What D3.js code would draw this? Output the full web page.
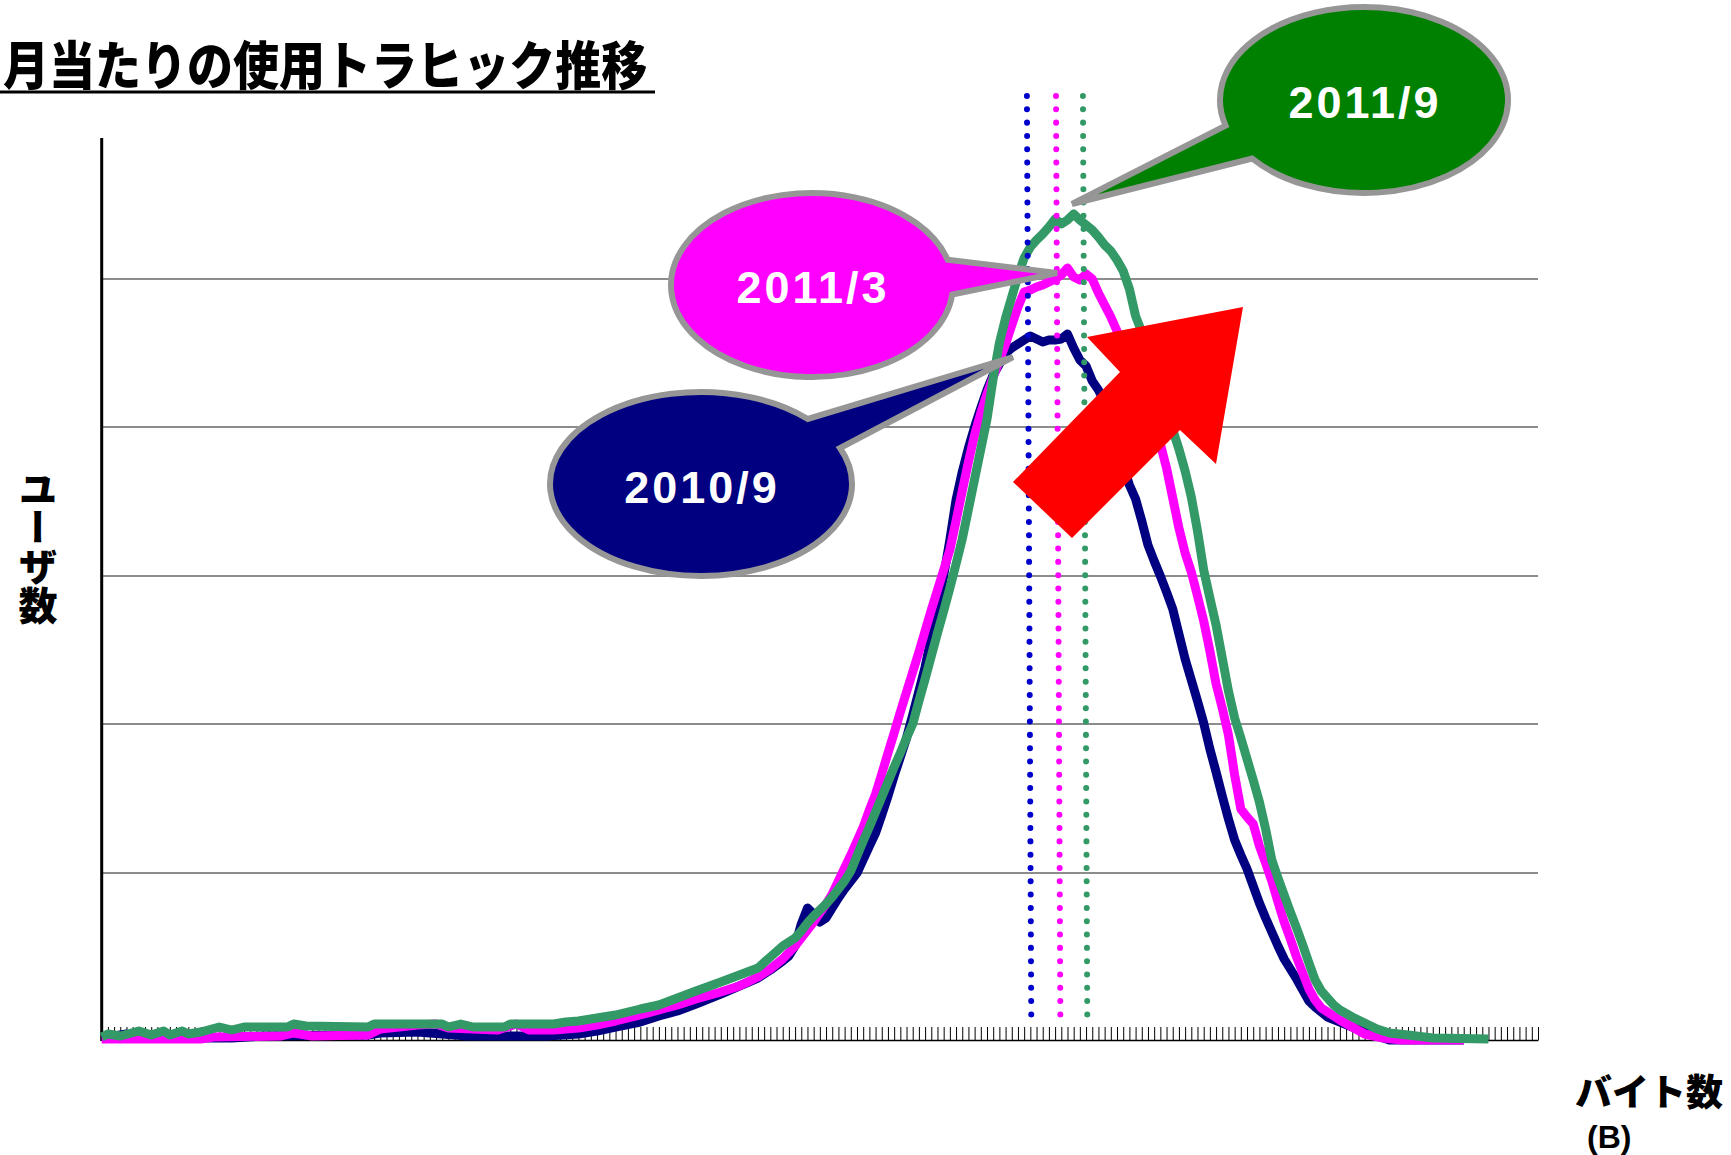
<!DOCTYPE html>
<html><head><meta charset="utf-8">
<script src="https://cdn.jsdelivr.net/npm/d3@7"></script>
<style>html,body{margin:0;padding:0;background:#fff;} svg{display:block}</style>
</head><body>
<svg id="chart" width="1731" height="1155"></svg>
<script>
// ---------------- DATA ----------------
const binCount = 232;                       // byte-size bins on the category axis
const gridValues = [167, 316, 464, 613, 761]; // horizontal gridlines (user count)
const seriesNames = ["2010/9", "2011/3", "2011/9"];

const bins2010_9 = [0,4,6,21,26,43,45,51,55,59,72,77,80,83,87,90,93,96,100,103,106,108,110,111,112,113,114,115,116,117,118,119,120,122,124,125,126,127,128,129,130,131,132,133,134,135,136,137,138,139,140,141,142,143,144,145,146,147,148,149,150,151,152,153,154,155,156,157,158,159,160,161,162,163,164,165,166,167,168,169,170,171,172,173,174,175,176,177,178,179,180,181,182,183,184,185,186,187,188,189,190,191,192,193,194,195,196,197,198,200,202,204,206,208,220];
const users2010_9 = [2,6,2,2,4,5,7,8,6,4,4,6,9,13,18,24,29,36,46,54,62,70,79,84,94,116,132,126,118,122,132,142,151,167,194,207,225,244,264,283,302,325,349,373,402,432,464,500,540,568,592,613,632,650,665,676,687,692,696,700,704,701,698,700,700,701,706,692,680,674,659,650,638,616,594,574,555,541,519,495,479,464,448,431,406,381,360,339,317,291,268,244,221,200,185,171,154,137,122,108,94,81,71,61,50,39,33,28,23,18,13,8,4,0,0];

const bins2011_3 = [0,16,18,29,31,34,43,45,51,54,56,64,67,69,73,77,80,83,87,90,93,96,100,103,106,108,110,112,113,114,115,116,117,118,119,120,121,122,123,124,125,126,127,128,129,130,131,132,133,134,135,136,137,138,139,140,141,142,143,144,145,146,147,148,149,150,151,152,153,154,155,156,157,158,159,160,161,162,163,164,165,166,167,168,169,170,171,172,173,174,175,176,177,178,179,180,181,182,183,184,185,186,187,188,189,190,191,192,193,194,195,196,197,198,200,202,204,207,210,220];
const users2011_3 = [1,1,3,4,7,4,5,11,15,16,12,10,16,10,10,12,15,19,25,30,35,41,48,54,63,71,81,94,102,110,118,127,136,146,159,172,185,199,213,230,246,266,287,307,328,348,368,388,409,430,450,470,490,519,549,578,605,627,646,663,679,696,715,733,748,750,753,755,758,761,765,772,763,760,766,761,747,735,723,709,693,677,661,645,628,612,596,572,542,512,487,468,444,419,389,356,332,305,265,231,223,216,194,177,159,138,118,101,83,67,51,40,32,28,20,13,6,2,0,0];

const bins2011_9 = [0,1,3,6,8,10,11,13,14,16,19,21,23,30,31,33,43,44,55,56,58,60,65,66,73,75,77,80,83,87,90,93,96,100,103,106,108,110,112,113,114,115,116,117,118,119,120,121,122,123,124,125,126,127,128,129,130,131,132,133,134,135,136,137,138,139,140,141,142,143,144,145,146,147,148,149,150,151,152,153,154,155,156,157,158,159,160,161,162,163,164,165,166,167,168,169,170,171,172,173,174,175,176,177,178,179,180,181,182,183,184,185,186,187,188,189,190,191,192,193,194,195,196,197,198,199,200,202,204,206,208,211,215,224];
const users2011_9 = [3,6,4,9,5,9,5,9,6,8,13,10,13,13,16,14,13,16,16,13,16,13,13,16,16,18,19,22,25,31,35,42,49,58,65,72,83,94,102,109,117,124,130,136,143,151,159,169,184,199,213,228,243,258,273,287,302,316,339,361,384,407,429,452,476,501,531,561,591,621,662,697,722,743,764,782,793,800,806,813,821,816,820,826,820,815,810,803,795,789,780,769,751,724,708,686,665,644,625,610,591,569,543,509,470,442,415,382,349,322,302,281,260,238,211,180,162,145,128,112,95,77,60,49,42,35,30,23,17,11,7,5,2,1];

// bins marking the peak of each distribution (dotted guides)
const peakBins = [149.8, 154.5, 158.85];

// ---------------- LAYOUT / STYLE ----------------
const colors = ["#000080", "#FF00FF", "#339966"];
const dotColors = ["#0000CC", "#FF00FF", "#339966"];
const calloutFill = ["#000080", "#FF00FF", "#008000"];
const plot = {left: 101.7, right: 1538, top: 138, bottom: 1040};

const svg = d3.select("#chart");
const x = d3.scaleLinear().domain([0, binCount]).range([plot.left, plot.right]);
const y = d3.scaleLinear().domain([0, 902]).range([plot.bottom, plot.top]);

// gridlines
svg.append("g").selectAll("line").data(gridValues).join("line")
  .attr("x1", plot.left).attr("x2", plot.right)
  .attr("y1", d => y(d)).attr("y2", d => y(d))
  .attr("stroke", "#1a1a1a").attr("stroke-width", 1.2);

// x axis with inward ticks, no labels
const xAxis = d3.axisBottom(x).tickValues(d3.range(1, binCount + 1)).tickSize(-13).tickSizeOuter(0).tickFormat("");
const gx = svg.append("g").attr("transform", `translate(0,${plot.bottom})`).call(xAxis);
gx.select(".domain").attr("stroke", "#000").attr("stroke-width", 1.6);
gx.selectAll(".tick line").attr("stroke", "#000").attr("stroke-width", 1);

// y axis line
svg.append("line").attr("x1", plot.left).attr("x2", plot.left)
  .attr("y1", plot.top).attr("y2", plot.bottom + 1)
  .attr("stroke", "#000").attr("stroke-width", 3);

// series lines
const series = [
  {name: seriesNames[0], bins: bins2010_9, values: users2010_9, color: colors[0]},
  {name: seriesNames[1], bins: bins2011_3, values: users2011_3, color: colors[1]},
  {name: seriesNames[2], bins: bins2011_9, values: users2011_9, color: colors[2]}
];
const line = d3.line().x(d => x(d[0])).y(d => y(d[1]));
svg.append("g").selectAll("path").data(series).join("path")
  .attr("d", s => line(s.bins.map((b, i) => [b, s.values[i]])))
  .attr("fill", "none").attr("stroke", s => s.color)
  .attr("stroke-width", 9).attr("stroke-linejoin", "round").attr("stroke-linecap", "butt");

// dotted peak guides
const guideTop = 96, guideBottom = 1026;
svg.append("g").selectAll("line").data(peakBins).join("line")
  .attr("x1", d => x(d) - 2.2).attr("x2", d => x(d) + 2.2)
  .attr("y1", guideTop).attr("y2", guideBottom)
  .attr("stroke", (d, i) => dotColors[i]).attr("stroke-width", 6)
  .attr("stroke-linecap", "round").attr("stroke-dasharray", "0.01 13.3");

// callouts
const callouts = [
  {label: seriesNames[0], cx: 701, cy: 484, rx: 151, ry: 92, ta: -45, tb: -23, tip: [1013, 357], ty: 503, fill: calloutFill[0]},
  {label: seriesNames[1], cx: 812, cy: 285, rx: 141, ry: 92, ta: -16, tb: 6, tip: [1057, 273], ty: 303, fill: calloutFill[1]},
  {label: seriesNames[2], cx: 1364, cy: 100, rx: 144, ry: 93, ta: 141, tb: 164, tip: [1072, 204], ty: 118, fill: calloutFill[2]}
];
function pt(c, deg) { const t = deg * Math.PI / 180; return [c.cx + c.rx * Math.cos(t), c.cy + c.ry * Math.sin(t)]; }
const cg = svg.append("g");
callouts.forEach(c => {
  const a = pt(c, c.tb), b = pt(c, c.ta + 360);
  const d = `M${a[0]},${a[1]} A${c.rx},${c.ry} 0 1 1 ${b[0]},${b[1]} L${c.tip[0]},${c.tip[1]} Z`;
  cg.append("path").attr("d", d).attr("fill", c.fill).attr("stroke", "#969696").attr("stroke-width", 6).attr("stroke-linejoin", "miter");
  cg.append("text").attr("x", c.cx + 1).attr("y", c.ty).attr("text-anchor", "middle")
    .attr("font-family", "'Liberation Sans', Arial, sans-serif").attr("font-weight", "bold")
    .attr("font-size", 45).attr("letter-spacing", 3).attr("fill", "#fff").text(c.label);
});

// red arrow
const arrow = [[1243,307],[1087,337],[1120,372],[1013,482],[1072,538],[1180,430],[1216,464]];
svg.append("polygon").attr("points", arrow.map(p => p.join(",")).join(" ")).attr("fill", "#FF0000");

// title (condensed bold gothic look)
svg.append("text").attr("transform", "translate(3,85) scale(0.885,1)")
  .attr("font-family", "'Noto Sans CJK JP', sans-serif").attr("font-weight", 900)
  .attr("font-size", 52).attr("fill", "#000").text("月当たりの使用トラヒック推移");
svg.append("line").attr("x1", 0).attr("x2", 655).attr("y1", 92).attr("y2", 92)
  .attr("stroke", "#000").attr("stroke-width", 3);

// y label (vertical)
svg.append("text").attr("x", 38).attr("y", 469)
  .attr("font-family", "'Noto Sans CJK JP', sans-serif").attr("font-weight", 900)
  .attr("font-size", 39).style("writing-mode", "vertical-rl").style("text-orientation", "upright")
  .attr("fill", "#000").text("ユーザ数");

// x label
svg.append("text").attr("x", 1575).attr("y", 1106)
  .attr("font-family", "'Noto Sans CJK JP', sans-serif").attr("font-weight", 900)
  .attr("font-size", 37).attr("fill", "#000").text("バイト数");
svg.append("text").attr("x", 1587).attr("y", 1148)
  .attr("font-family", "'Liberation Sans', Arial, sans-serif").attr("font-weight", 700)
  .attr("font-size", 32).attr("fill", "#000").text("(B)");
</script>
</body></html>
